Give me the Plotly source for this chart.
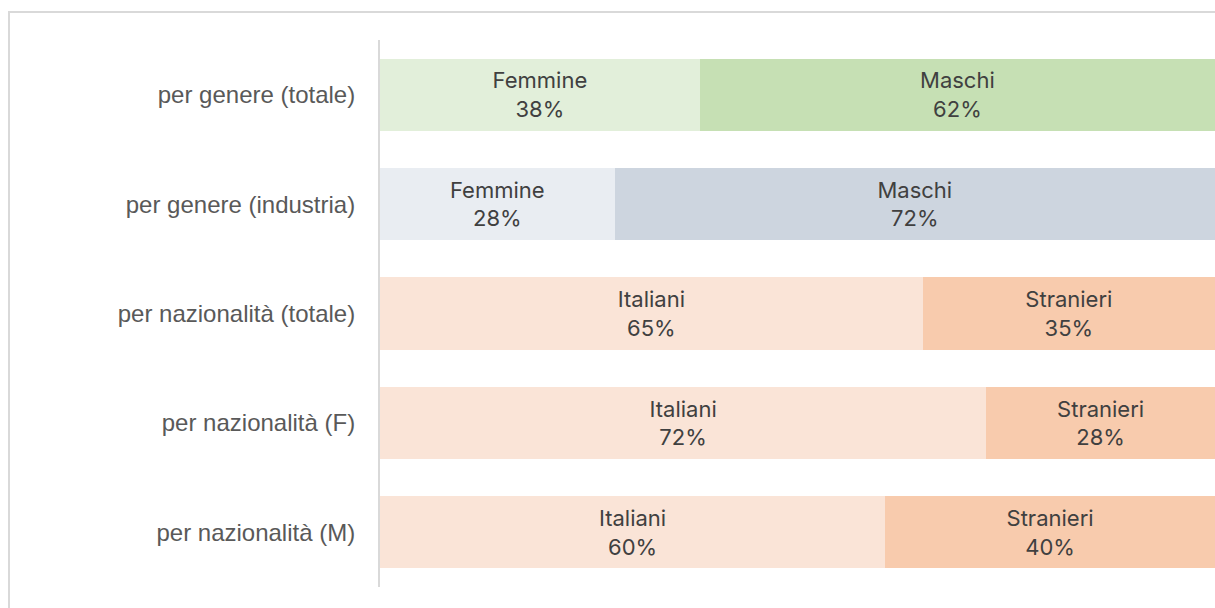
import plotly.graph_objects as go

categories = ["per genere (totale)", "per genere (industria)", "per nazionalità (totale)",
              "per nazionalità (F)", "per nazionalità (M)"]
first_names = ["Femmine", "Femmine", "Italiani", "Italiani", "Italiani"]
first_values = [38.3, 28.1, 65.0, 72.6, 60.5]
first_labels = ["38%", "28%", "65%", "72%", "60%"]
second_names = ["Maschi", "Maschi", "Stranieri", "Stranieri", "Stranieri"]
second_values = [61.7, 71.9, 35.0, 27.4, 39.5]
second_labels = ["62%", "72%", "35%", "28%", "40%"]

first_colors = ["#e2efda", "#e9edf2", "#fae4d7", "#fae4d7", "#fae4d7"]
second_colors = ["#c6e0b4", "#cdd5df", "#f8cbad", "#f8cbad", "#f8cbad"]

text_font = dict(family="Inter, Open Sans, sans-serif", size=22, color="#404040")

fig = go.Figure()
fig.add_trace(go.Bar(
    y=categories, x=first_values, orientation="h",
    marker=dict(color=first_colors, line=dict(width=0)),
    text=[f"{n}<br>{l}" for n, l in zip(first_names, first_labels)],
    textposition="inside", insidetextanchor="middle", textangle=0,
    textfont=text_font, hoverinfo="skip", showlegend=False,
))
fig.add_trace(go.Bar(
    y=categories, x=second_values, orientation="h",
    marker=dict(color=second_colors, line=dict(width=0)),
    text=[f"{n}<br>{l}" for n, l in zip(second_names, second_labels)],
    textposition="inside", insidetextanchor="middle", textangle=0,
    textfont=text_font, hoverinfo="skip", showlegend=False,
))

W, H = 1215, 608
L, R, T, B = 380, 0, 40, 21
pw, ph = W - L - R, H - T - B

def px_x(x):
    return (x - L) / pw

def px_y(y):
    return (H - B - y) / ph

fig.update_layout(
    barmode="stack", bargap=0.34,
    width=W, height=H,
    margin=dict(l=L, r=R, t=T, b=B),
    paper_bgcolor="white", plot_bgcolor="white",
    uniformtext=dict(mode=False),
    xaxis=dict(range=[0, 100], visible=False, fixedrange=True),
    yaxis=dict(autorange="reversed", showgrid=False, zeroline=False,
               showline=True, linecolor="#d9d9d9", linewidth=2,
               ticks="", ticklabelstandoff=18, fixedrange=True,
               tickfont=dict(family="Liberation Sans, Arial, sans-serif", size=24, color="#595959")),
    shapes=[
        dict(type="line", xref="paper", yref="paper", x0=px_x(8), x1=px_x(1230),
             y0=px_y(12), y1=px_y(12), line=dict(color="#d9d9d9", width=2)),
        dict(type="line", xref="paper", yref="paper", x0=px_x(9), x1=px_x(9),
             y0=px_y(12), y1=px_y(620), line=dict(color="#d9d9d9", width=2)),
    ],
)

fig.write_html(
    "out.html",
    config={"displayModeBar": False},
    post_script=("document.body.style.margin='0';"
                 "document.body.style.overflow='hidden';"
                 "document.documentElement.style.overflow='hidden';"),
)
